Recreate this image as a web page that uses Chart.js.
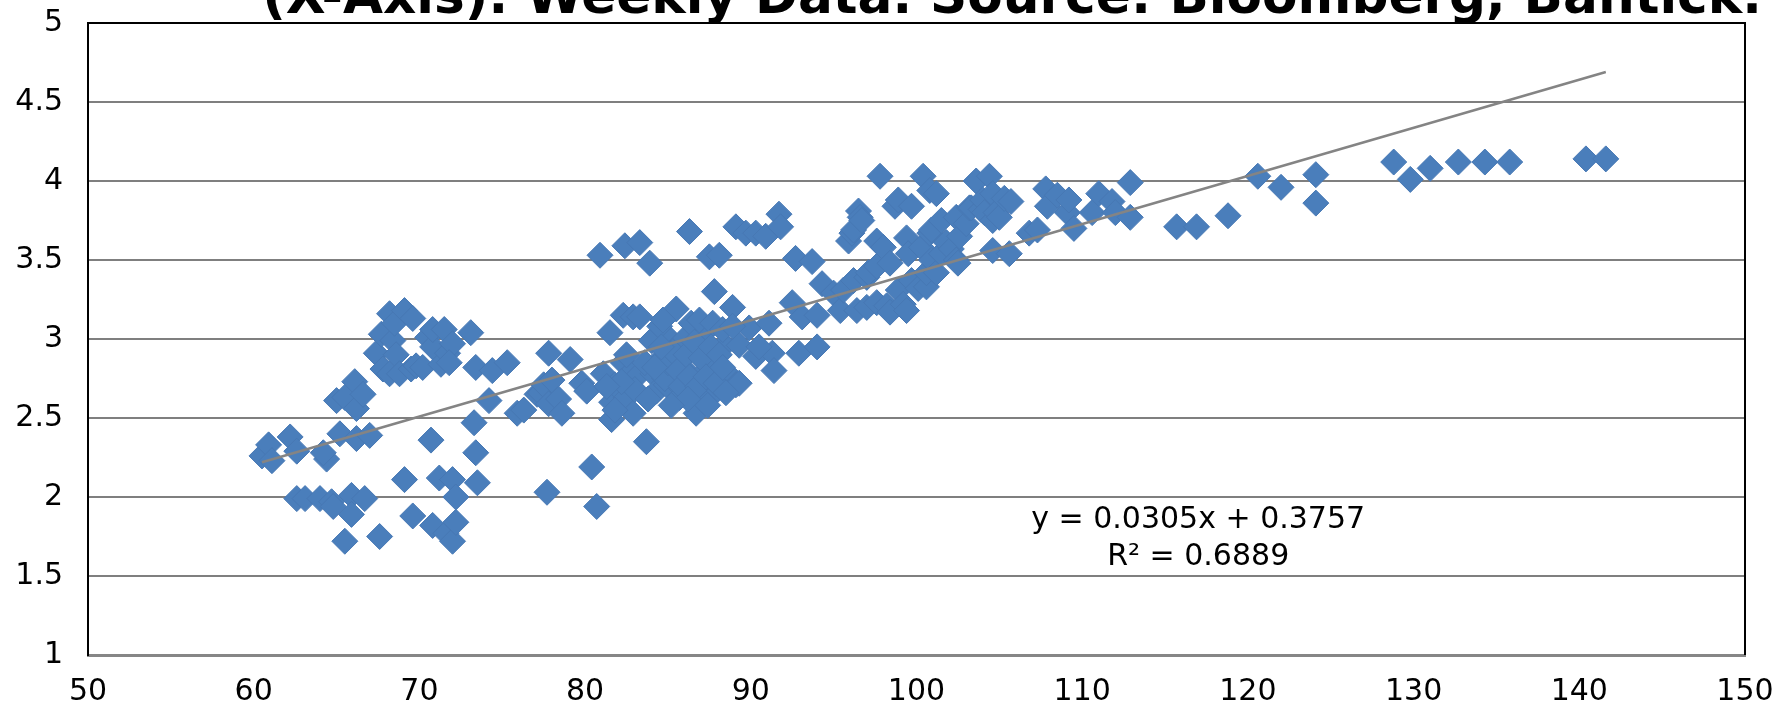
<!DOCTYPE html>
<html>
<head>
<meta charset="utf-8">
<script src="https://cdn.jsdelivr.net/npm/chart.js@4.4.0/dist/chart.umd.min.js"></script>
<style>
  html, body { margin: 0; padding: 0; background: #ffffff; overflow: hidden; }
  #wrap { position: relative; width: 1777px; height: 709px; }
</style>
</head>
<body>
<div id="wrap"><canvas id="c" width="1777" height="709"></canvas></div>
<script>
const chartTitle = "(X-Axis). Weekly Data. Source: Bloomberg, Bantick.";
const equationLines = ["y = 0.0305x + 0.3757", "R\u00b2 = 0.6889"];

const xTicks = [50, 60, 70, 80, 90, 100, 110, 120, 130, 140, 150];
const yTicks = [1, 1.5, 2, 2.5, 3, 3.5, 4, 4.5, 5];

const xValues = [
  60.5,60.9,61.1,62.2,62.6,62.6,63.1,64.0,64.4,64.2,64.7,64.8,65.0,65.2,65.5,65.5,65.9,65.9,66.1,66.2,
  66.2,66.6,66.7,67.0,67.6,67.4,67.7,68.2,68.4,67.8,68.2,68.5,68.6,68.8,69.1,69.6,69.5,69.1,69.6,69.8,
  70.2,70.5,70.8,70.7,70.8,70.8,71.2,71.3,71.6,71.5,71.7,72.0,72.0,72.2,72.2,72.0,71.8,73.1,73.4,73.3,
  73.4,73.5,74.2,74.4,75.3,75.9,76.3,77.1,77.3,77.5,77.7,77.8,77.8,78.0,78.4,78.6,79.1,79.8,80.1,80.4,
  80.7,80.9,81.1,81.5,81.6,81.6,81.8,82.3,82.4,82.3,82.5,82.9,82.7,82.9,83.3,83.3,83.3,83.7,83.9,84.0,
  84.1,84.3,84.5,84.7,84.9,85.2,85.5,85.4,85.6,85.7,85.9,86.0,86.3,86.4,86.5,86.7,86.9,87.1,87.2,87.4,
  87.5,87.8,87.9,88.0,88.1,88.4,88.6,88.9,89.1,89.1,89.3,89.7,89.9,90.3,90.3,90.9,91.1,91.3,91.4,91.7,
  91.8,92.5,92.7,93.1,92.9,93.7,94.0,94.0,94.3,84.7,86.9,87.7,88.3,88.9,90.5,89.3,84.8,85.0,85.3,85.6,
  85.8,86.1,86.3,86.6,86.8,87.0,87.3,87.6,87.9,88.1,88.3,88.5,86.2,85.2,87.4,84.6,83.6,83.0,82.2,81.3,
  81.8,82.5,83.8,84.2,95.0,95.4,95.6,95.9,96.1,96.2,96.2,96.4,96.5,96.6,96.7,97.0,97.0,97.1,97.6,97.6,
  97.6,97.8,98.0,98.2,98.4,98.4,98.7,98.9,98.9,99.2,99.4,99.4,99.5,99.7,99.7,100.1,100.3,100.4,100.6,100.6,
  100.8,100.8,100.9,100.9,101.2,101.2,101.5,101.5,101.8,102.1,102.4,102.4,102.5,102.6,103.0,103.2,103.3,103.6,103.9,104.0,
  104.1,104.4,104.6,104.6,104.6,104.8,105.0,105.3,105.6,105.7,106.8,107.3,107.8,107.9,108.5,109.1,109.2,109.5,110.6,111.0,
  111.8,112.0,112.9,112.9,115.7,116.9,118.8,120.6,122.0,124.1,124.1,128.8,129.8,131.0,132.7,134.3,135.8,140.4,141.6
];
const yValues = [
  2.26,2.33,2.23,2.38,2.29,1.99,1.99,1.99,2.24,2.28,1.97,1.94,2.61,2.40,1.72,2.63,2.01,1.89,2.73,2.56,
  2.37,2.65,1.99,2.39,1.75,2.91,3.03,3.16,2.99,2.81,2.78,3.10,2.90,2.78,3.18,3.13,2.81,2.11,1.88,2.83,
  2.82,3.01,2.95,2.36,1.82,3.06,2.12,2.84,1.77,3.06,2.91,1.72,2.11,1.84,2.00,2.97,2.85,3.04,2.82,2.47,
  2.28,2.09,2.61,2.80,2.85,2.53,2.55,2.65,2.66,2.71,2.03,2.59,2.91,2.74,2.62,2.53,2.87,2.72,2.67,2.19,
  1.94,3.53,2.78,3.04,2.60,2.49,2.71,3.15,3.59,2.85,2.63,3.14,2.78,2.53,3.14,3.61,2.78,2.35,3.48,2.99,
  2.78,2.67,3.08,2.89,2.71,2.99,3.19,2.85,2.71,2.63,2.99,2.81,3.68,3.10,2.67,2.53,2.96,2.78,2.63,3.06,
  3.52,3.30,2.85,2.68,3.53,2.96,2.78,3.20,3.71,2.71,2.96,3.67,3.07,3.67,2.89,3.65,3.10,2.91,2.80,3.79,
  3.71,3.23,3.51,3.14,2.91,3.49,3.15,2.95,3.35,3.12,3.12,3.10,3.06,3.08,2.95,2.72,2.75,2.85,2.92,2.80,
  2.70,2.90,2.76,2.98,2.70,2.88,2.76,2.95,2.72,2.90,2.82,2.66,2.62,2.58,2.58,2.95,2.85,2.68,2.73,2.70,
  2.55,2.90,2.62,2.82,3.29,3.18,3.31,3.62,3.67,3.37,3.69,3.18,3.81,3.77,3.75,3.20,3.39,3.42,3.23,3.46,
  3.62,4.03,3.58,3.21,3.17,3.48,3.84,3.31,3.88,3.22,3.18,3.64,3.54,3.37,3.84,3.32,3.58,4.03,3.33,3.42,
  3.94,3.67,3.50,3.69,3.42,3.92,3.54,3.75,3.61,3.57,3.77,3.50,3.48,3.65,3.73,3.83,3.83,4.00,3.82,3.88,
  3.80,4.03,3.92,3.56,3.75,3.80,3.77,3.89,3.54,3.87,3.67,3.69,3.95,3.84,3.91,3.80,3.88,3.70,3.80,3.92,
  3.87,3.80,3.99,3.77,3.71,3.71,3.78,4.03,3.96,4.04,3.86,4.12,4.01,4.08,4.12,4.12,4.12,4.14,4.14
];

// Trendline end points
const trendX = [60.5, 141.6];
const trendY = [2.22, 4.69];

const points = xValues.map((x, i) => ({ x: x, y: yValues[i] }));
const trendPoints = trendX.map((x, i) => ({ x: x, y: trendY[i] }));

const FONT = '"DejaVu Sans", Verdana, sans-serif';

const framePlugin = {
  id: 'frame',
  afterDraw(chart) {
    const ctx = chart.ctx;
    const a = chart.chartArea;
    ctx.save();
    ctx.strokeStyle = '#000000';
    ctx.lineWidth = 2;
    ctx.beginPath();
    ctx.moveTo(a.left - 1, a.top);
    ctx.lineTo(a.right, a.top);
    ctx.lineTo(a.right, a.bottom);
    ctx.stroke();
    const xs = chart.scales.x, ys = chart.scales.y;
    ctx.fillStyle = '#000000';
    ctx.font = '30px ' + FONT;
    ctx.textAlign = 'center';
    ctx.textBaseline = 'middle';
    ctx.fillText(equationLines[0], xs.getPixelForValue(117.0), ys.getPixelForValue(1.85));
    ctx.fillText(equationLines[1], xs.getPixelForValue(117.0), ys.getPixelForValue(1.62));
    let size = 40;
    ctx.font = 'bold ' + size + 'px ' + FONT;
    const w = ctx.measureText(chartTitle).width;
    size = size * 1500 / w;
    ctx.font = 'bold ' + size.toFixed(2) + 'px ' + FONT;
    ctx.textBaseline = 'alphabetic';
    ctx.fillText(chartTitle, 1012, 12.5);
    ctx.restore();
  }
};

new Chart(document.getElementById('c'), {
  type: 'scatter',
  data: {
    datasets: [
      {
        type: 'line',
        data: trendPoints,
        borderColor: '#848484',
        borderWidth: 2.5,
        pointRadius: 0,
        fill: false,
        order: 0
      },
      {
        data: points,
        pointStyle: 'rectRot',
        pointRadius: 13,
        pointHoverRadius: 13,
        backgroundColor: '#4a7ebb',
        borderColor: '#4778b4',
        borderWidth: 1,
        order: 1
      }
    ]
  },
  plugins: [framePlugin],
  options: {
    responsive: false,
    animation: false,
    events: [],
    layout: { padding: { top: 23, right: 32, left: 0, bottom: 0 } },
    plugins: {
      legend: { display: false },
      title: { display: false },
      tooltip: { enabled: false }
    },
    scales: {
      x: {
        type: 'linear',
        min: 50,
        max: 150,
        afterBuildTicks(scale) { scale.ticks = xTicks.map(v => ({ value: v })); },
        afterFit(scale) {
          scale.height = 54;
          scale.paddingLeft = 0; scale.paddingRight = 0;
          scale.paddingTop = 0; scale.paddingBottom = 0;
        },
        grid: { display: false, drawTicks: false },
        border: { display: true, color: '#868686', width: 3 },
        ticks: {
          color: '#000000',
          padding: 19,
          maxRotation: 0,
          autoSkip: false,
          callback: (v) => String(v),
          font: { family: FONT, size: 30 }
        }
      },
      y: {
        type: 'linear',
        min: 1,
        max: 5,
        afterBuildTicks(scale) { scale.ticks = yTicks.map(v => ({ value: v })); },
        afterFit(scale) {
          scale.width = 88;
          scale.paddingLeft = 0; scale.paddingRight = 0;
          scale.paddingTop = 0; scale.paddingBottom = 0;
        },
        grid: { color: '#7f7f7f', lineWidth: 2, drawTicks: false },
        border: { display: true, color: '#000000', width: 2 },
        ticks: {
          color: '#000000',
          padding: 25,
          autoSkip: false,
          callback: (v) => String(v),
          font: { family: FONT, size: 30 }
        }
      }
    }
  }
});
</script>
</body>
</html>
